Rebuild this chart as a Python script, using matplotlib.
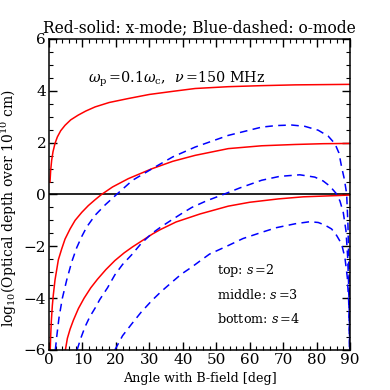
import matplotlib
matplotlib.use("Agg")
import matplotlib.pyplot as plt
from matplotlib.ticker import MultipleLocator

plt.rcParams['font.family'] = ['DejaVu Serif']
plt.rcParams['mathtext.fontset'] = 'dejavuserif'

# x-mode (red solid)
x_s2 = [0.3, 0.5, 0.8, 1.2, 1.8, 2.5, 3.5, 4.8, 6.5, 8.7, 11.0, 13.8, 18.0, 23.6, 30.0, 37.0, 43.7, 53.6, 63.6, 73.6, 82.0, 90.0]
y_s2 = [0.48, 0.92, 1.32, 1.65, 1.97, 2.22, 2.46, 2.67, 2.88, 3.06, 3.22, 3.38, 3.55, 3.70, 3.86, 3.98, 4.09, 4.16, 4.20, 4.23, 4.24, 4.25]

x_s3 = [0.37, 0.5, 0.7, 1.0, 1.3, 1.8, 2.8, 3.8, 4.8, 6.3, 7.8, 9.8, 11.75, 13.8, 15.7, 19.0, 23.7, 30.7, 37.0, 43.7, 53.6, 63.6, 73.6, 82.0, 90.0]
y_s3 = [-6.0, -5.48, -4.89, -4.29, -3.87, -3.3, -2.52, -2.1, -1.72, -1.33, -1.0, -0.69, -0.43, -0.2, 0.0, 0.29, 0.61, 0.99, 1.28, 1.51, 1.77, 1.88, 1.93, 1.96, 1.97]

x_s4 = [4.9, 5.5, 6.3, 7.3, 8.8, 10.5, 12.5, 14.5, 17.0, 19.7, 22.5, 25.0, 28.0, 31.0, 33.2, 38.0, 45.2, 53.6, 60.0, 68.6, 76.0, 86.5, 90.0]
y_s4 = [-6.0, -5.55, -5.2, -4.85, -4.4, -4.0, -3.6, -3.27, -2.9, -2.55, -2.25, -2.02, -1.77, -1.52, -1.36, -1.06, -0.75, -0.45, -0.30, -0.17, -0.09, -0.04, -0.02]

# o-mode (blue dashed)
xo_s2 = [1.9, 2.3, 3.0, 4.0, 5.3, 6.8, 8.3, 9.8, 11.3, 13.8, 16.8, 20.2, 25.0, 31.7, 37.0, 43.7, 53.6, 63.6, 68.0, 72.6, 76.5, 80.5, 83.5, 85.5, 86.7, 87.5, 88.3, 89.0, 89.4, 89.7, 89.85]
yo_s2 = [-6.0, -5.5, -4.75, -4.0, -3.3, -2.6, -2.05, -1.62, -1.25, -0.8, -0.4, 0.0, 0.55, 1.06, 1.45, 1.83, 2.28, 2.60, 2.66, 2.68, 2.63, 2.48, 2.25, 1.96, 1.60, 1.06, 0.6, 0.03, -1.2, -3.0, -6.0]

xo_s3 = [8.4, 9.5, 10.8, 12.2, 13.8, 15.2, 17.5, 19.7, 22.0, 24.7, 27.5, 30.7, 33.5, 36.7, 39.5, 42.7, 47.0, 52.1, 57.0, 63.6, 69.0, 75.0, 79.5, 82.0, 84.0, 85.8, 87.0, 88.0, 88.8, 89.3, 89.6, 89.8, 89.92]
yo_s3 = [-6.0, -5.55, -5.1, -4.72, -4.38, -4.05, -3.6, -3.1, -2.7, -2.33, -1.9, -1.51, -1.25, -0.98, -0.75, -0.5, -0.25, 0.0, 0.25, 0.55, 0.70, 0.76, 0.67, 0.52, 0.32, 0.05, -0.25, -0.7, -1.4, -2.4, -3.5, -4.6, -6.0]

xo_s4 = [19.7, 22.0, 24.7, 27.5, 30.7, 33.5, 36.7, 39.5, 42.7, 45.0, 48.0, 53.6, 58.0, 63.6, 68.0, 73.6, 78.0, 80.5, 82.5, 84.5, 86.0, 87.5, 88.5, 89.2, 89.6, 89.8, 89.95]
yo_s4 = [-6.0, -5.45, -5.0, -4.55, -4.1, -3.75, -3.39, -3.08, -2.80, -2.58, -2.30, -1.97, -1.70, -1.46, -1.28, -1.13, -1.05, -1.08, -1.18, -1.33, -1.58, -1.91, -2.45, -3.2, -4.1, -4.9, -6.0]

title = "Red-solid: x-mode; Blue-dashed: o-mode"
xlabel = "Angle with B-field [deg]"
ylabel = r"log$_{10}$(Optical depth over 10$^{10}$ cm)"
param_text = r"$\omega_{\rm p}\,$=0.1$\omega_{\rm c}$,  $\nu\,$=150 MHz"
labels = [r"top: $s\,$=2", r"middle: $s\,$=3", r"bottom: $s\,$=4"]

fig = plt.figure(figsize=(3.9, 3.9), dpi=100)
ax = fig.add_axes([0.1256, 0.1026, 0.7718, 0.7974])

ax.axhline(0, color='black', lw=1.2)
for xs, ys in [(x_s2, y_s2), (x_s3, y_s3), (x_s4, y_s4)]:
    ax.plot(xs, ys, color='red', lw=1.1)
for xs, ys in [(xo_s2, yo_s2), (xo_s3, yo_s3), (xo_s4, yo_s4)]:
    ax.plot(xs, ys, color='blue', lw=1.1, ls=(0, (5, 3.5)))

ax.set_xlim(0, 90)
ax.set_ylim(-6, 6)
ax.xaxis.set_major_locator(MultipleLocator(10))
ax.xaxis.set_minor_locator(MultipleLocator(2))
ax.yaxis.set_major_locator(MultipleLocator(2))
ax.yaxis.set_minor_locator(MultipleLocator(0.5))
ax.tick_params(which='both', direction='in', top=True, right=True, labelsize=11, pad=2)
ax.tick_params(which='major', length=6, width=1)
ax.tick_params(which='minor', length=3, width=0.8)
for s in ax.spines.values():
    s.set_linewidth(1.1)

ax.set_title(title, fontsize=11.2, pad=4.5)
ax.set_xlabel(xlabel, fontsize=9.2, labelpad=3.5)
ax.set_ylabel(ylabel, fontsize=10.0)
ax.yaxis.set_label_coords(-0.098, 0.457)

ax.text(11.7, 4.45, param_text, fontsize=10.3, va='center')
for i, lab in enumerate(labels):
    ax.text(50.2, -2.95 - i * 0.93, lab, fontsize=9.2, va='center')

fig.savefig("out.png", dpi=100)
